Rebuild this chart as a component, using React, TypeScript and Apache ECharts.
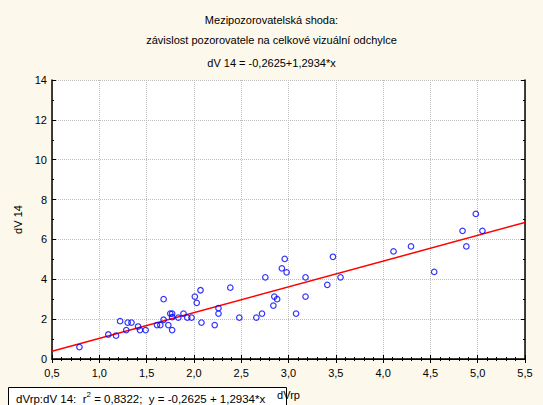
import React, { useEffect, useRef } from "react";
import * as echarts from "echarts";

const xValues = [
  0.79, 1.095, 1.177, 1.22, 1.285, 1.3, 1.34, 1.41, 1.43, 1.49, 1.61, 1.645, 1.68, 1.68, 1.73,
  1.75, 1.77, 1.77, 1.77, 1.835, 1.89, 1.93, 1.975, 2.01, 2.03, 2.07, 2.08, 2.22, 2.26, 2.26,
  2.385, 2.48, 2.66, 2.72, 2.755, 2.84, 2.85, 2.88, 2.93, 2.96, 2.98, 3.08, 3.18, 3.18, 3.41,
  3.47, 3.55, 4.11, 4.295, 4.54, 4.84, 4.88, 4.98, 5.05,
];
const yValues = [
  0.6, 1.23, 1.17, 1.9, 1.45, 1.83, 1.83, 1.63, 1.45, 1.45, 1.7, 1.7, 3.0, 1.97, 1.7,
  2.28, 2.28, 2.1, 1.45, 2.08, 2.28, 2.08, 2.08, 3.13, 2.82, 3.45, 1.83, 1.7, 2.55, 2.28,
  3.58, 2.08, 2.08, 2.28, 4.1, 2.68, 3.13, 3.0, 4.55, 5.02, 4.35, 2.28, 4.1, 3.13, 3.72,
  5.13, 4.1, 5.4, 5.65, 4.37, 6.43, 5.65, 7.28, 6.43,
];
const intercept = -0.2625;
const slope = 1.2934;
const xRange = [0.5, 5.5];
const yRange = [0, 14];
const titleLines = [
  "Mezipozorovatelská shoda:",
  "závislost pozorovatele na celkové vizuální odchylce",
];

const FONT = "Liberation Sans, Arial, sans-serif";
const fmt = (v: number, d: number) => v.toFixed(d).replace(".", ",");

export default function App() {
  const ref = useRef<HTMLDivElement>(null);
  useEffect(() => {
    if (!ref.current) return;
    const chart = echarts.init(ref.current, null, { renderer: "svg" });
    const pts = xValues.map((x, i) => [x, yValues[i]]);
    const fit = xRange.map((x) => [x, intercept + slope * x]);
    const titleStyle = { fontSize: 11, fontWeight: "normal", color: "#000", fontFamily: FONT };
    chart.setOption({
      animation: false,
      backgroundColor: "#fdf8ec",
      textStyle: { fontFamily: FONT },
      title: [
        { text: titleLines[0], left: "center", top: 9, textStyle: titleStyle },
        { text: titleLines[1], left: "center", top: 29, textStyle: titleStyle },
        {
          text: "dV 14 = " + fmt(intercept, 4) + "+" + fmt(slope, 4) + "*x",
          left: "center",
          top: 52,
          textStyle: titleStyle,
        },
      ],
      grid: { left: 52, right: 18, top: 80, bottom: 45, show: true, backgroundColor: "#ffffff", borderWidth: 0 },
      xAxis: [
        {
          type: "value",
          min: xRange[0],
          max: xRange[1],
          interval: 0.5,
          name: "dVrp",
          nameLocation: "middle",
          nameGap: 30,
          nameTextStyle: { fontSize: 11, color: "#000", fontFamily: FONT },
          axisLine: { lineStyle: { color: "#000", width: 1.5 } },
          axisTick: { inside: true, length: 4, lineStyle: { color: "#000" } },
          minorTick: { show: true, splitNumber: 5, length: 2, lineStyle: { color: "#000" } },
          axisLabel: { fontSize: 11, color: "#000", margin: 8, formatter: (v: number) => fmt(v, 1), fontFamily: FONT },
          splitLine: { show: true, lineStyle: { type: "dotted", color: "#bdbdbd" } },
        },
        {
          type: "value",
          position: "top",
          min: xRange[0],
          max: xRange[1],
          interval: 0.5,
          axisLine: { lineStyle: { color: "#000", width: 1 } },
          axisTick: { inside: true, length: 4, lineStyle: { color: "#000" } },
          minorTick: { show: true, splitNumber: 5, length: 2, lineStyle: { color: "#000" } },
          axisLabel: { show: false },
          splitLine: { show: false },
        },
      ],
      yAxis: [
        {
          type: "value",
          min: yRange[0],
          max: yRange[1],
          interval: 2,
          name: "dV 14",
          nameLocation: "middle",
          nameGap: 29,
          nameTextStyle: { fontSize: 11, color: "#000", fontFamily: FONT },
          axisLine: { show: true, lineStyle: { color: "#000", width: 1.5 } },
          axisTick: { show: true, inside: true, length: 4, lineStyle: { color: "#000" } },
          minorTick: { show: true, splitNumber: 2, length: 2, lineStyle: { color: "#000" } },
          axisLabel: { fontSize: 11, color: "#000", margin: 5, fontFamily: FONT },
          splitLine: { show: true, lineStyle: { type: "dotted", color: "#bdbdbd" } },
        },
        {
          type: "value",
          position: "right",
          min: yRange[0],
          max: yRange[1],
          interval: 2,
          axisLine: { show: true, lineStyle: { color: "#000", width: 1.5 } },
          axisTick: { show: true, inside: true, length: 4, lineStyle: { color: "#000" } },
          minorTick: { show: true, splitNumber: 2, length: 2, lineStyle: { color: "#000" } },
          axisLabel: { show: false },
          splitLine: { show: false },
        },
      ],
      series: [
        {
          type: "line",
          data: fit,
          symbol: "none",
          lineStyle: { color: "#ff0000", width: 1.5 },
          z: 2,
        },
        {
          type: "scatter",
          data: pts,
          symbol: "circle",
          symbolSize: 5.5,
          itemStyle: { color: "transparent", borderColor: "#0000ff", borderWidth: 1.2 },
          z: 3,
        },
      ],
      graphic: [
        {
          type: "group",
          z: 100,
          children: [
            {
              type: "rect",
              shape: { x: 8.5, y: 387.5, width: 278, height: 24 },
              style: { fill: "#ffffff", stroke: "#000", lineWidth: 1 },
            },
            {
              type: "text",
              x: 16,
              y: 390,
              style: {
                text: "{n|dVrp:dV 14:  r}{s|2}{n| = 0,8322;  y = -0,2625 + 1,2934*x}",
                rich: {
                  n: { fontSize: 11.5, fill: "#000", fontFamily: FONT, verticalAlign: "bottom", lineHeight: 15 },
                  s: { fontSize: 8, fill: "#000", fontFamily: FONT, verticalAlign: "top", lineHeight: 15 },
                },
              },
            },
          ],
        },
      ],
    });
    return () => chart.dispose();
  }, []);
  return <div ref={ref} style={{ width: 543, height: 405, position: "absolute", left: 0, top: 0 }} />;
}
